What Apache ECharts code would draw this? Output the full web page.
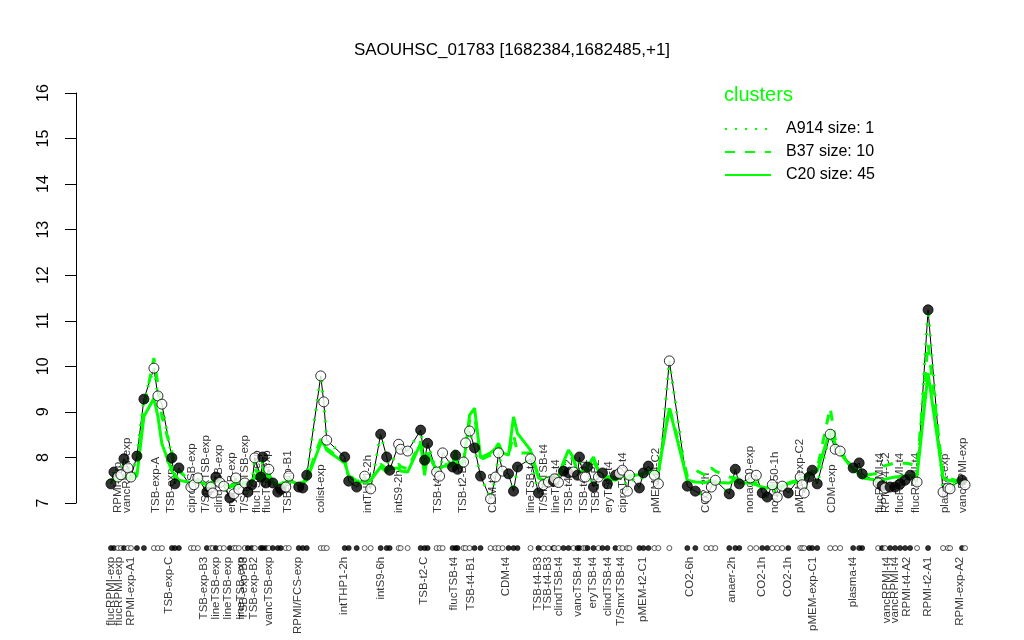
<!DOCTYPE html>
<html><head><meta charset="utf-8">
<script src="https://cdn.jsdelivr.net/npm/echarts@6/dist/echarts.min.js"></script>
<style>html,body{margin:0;padding:0;background:#fff}#c{width:1024px;height:640px}</style>
</head><body><div id="c"></div><script>
// sample order positions (slot index along the x axis, groups separated by gaps)
const sampleSlot = [0,0.75,1.75,2.5,3.25,4.25,5,6.5,8.25,10.75,11.75,12.75,15.25,16,17,20,20.75,21.75,24,25,25.5,26.25,27.25,28.25,29.75,30.75,31.25,32,33.5,34.25,35.25,36,37.5,38,38.75,39.5,40.5,41.75,42.5,43.75,44.5,47,48,49,52.5,53.25,54,58.5,59.5,61.5,63.5,65,67.5,69,69.75,72,72.5,74.25,77.5,78.5,79.25,81.5,82.25,83,85.5,86.25,86.75,88.25,88.75,89.75,91,92.5,95,96.25,97,98,99.5,100.75,101.75,105,107,108.25,109.5,110.75,111,112,113.25,114.5,115.75,116.75,117.25,118.25,118.75,119.25,120.75,122,123,124.25,126.25,127.25,128,129.25,129.75,132.25,133.25,134.5,136,137,139.75,144.25,146.25,149,150.25,151.25,154.75,156.25,157.25,160,161.5,163,164.25,165.5,166.75,168,169.5,172.5,173,173.5,174.75,175.5,176.75,180,181.25,182.5,185.75,187.25,188,192,193,193.75,195,196.25,197.5,198.75,200,201.75,204.5,208.25,209.5,210,213,213.75];
// expression of SAOUHSC_01783 in each sample
const geneValue = [7.42,7.68,7.57,7.62,7.97,7.77,7.57,8.03,9.28,9.96,9.35,9.17,7.99,7.42,7.77,7.35,7.40,7.55,7.24,7.35,7.22,7.57,7.45,7.37,7.11,7.20,7.55,7.30,7.44,7.24,7.40,7.99,7.57,8.01,7.44,7.74,7.44,7.24,7.30,7.35,7.59,7.35,7.33,7.61,9.79,9.22,8.38,8.01,7.48,7.35,7.59,7.31,8.51,8.01,7.72,8.29,8.18,8.14,8.60,7.94,8.31,7.68,7.59,8.10,7.79,8.05,7.74,7.90,8.32,8.58,8.21,7.59,7.09,7.57,8.10,7.70,7.64,7.26,7.79,7.97,7.22,7.40,7.46,7.48,7.53,7.45,7.70,7.66,7.68,7.61,8.01,7.57,7.57,7.79,7.35,7.57,7.66,7.42,7.61,7.65,7.72,7.26,7.61,7.33,7.66,7.81,7.61,7.42,10.12,7.37,7.26,7.13,7.35,7.50,7.20,7.74,7.42,7.55,7.61,7.22,7.13,7.40,7.13,7.37,7.22,7.57,7.40,7.22,7.57,7.72,7.42,8.51,8.18,8.14,7.77,7.88,7.64,7.44,7.38,7.33,7.35,7.35,7.42,7.50,7.61,7.46,11.24,7.24,7.33,7.31,7.50,7.40];
// 1 = filled point, 0 = open point
const sampleFilled = [1,1,0,0,1,0,0,1,1,0,0,0,1,1,1,0,0,0,1,0,0,1,0,0,1,0,0,0,0,1,1,0,1,1,1,0,1,1,1,0,0,1,1,1,0,0,0,1,1,1,0,0,1,1,1,0,0,0,1,1,1,0,0,0,1,1,1,0,0,0,1,1,0,0,0,0,1,1,1,0,1,0,0,1,0,0,1,1,0,1,1,0,0,1,1,0,1,1,1,0,0,0,0,1,1,1,0,0,0,1,1,0,0,0,1,1,1,0,0,1,1,0,0,0,1,0,0,0,1,1,1,0,0,0,1,1,1,0,1,0,1,1,1,1,1,0,1,0,0,0,1,0];
// cluster means
const c20Mean = [7.50,7.52,7.50,7.55,7.60,7.55,7.52,7.60,8.90,9.30,8.90,8.30,7.70,7.62,7.50,7.45,7.42,7.48,7.40,7.45,7.40,7.48,7.45,7.42,7.35,7.38,7.45,7.40,7.45,7.40,7.45,7.60,7.50,7.62,7.48,7.55,7.45,7.40,7.42,7.42,7.48,7.42,7.44,7.50,8.31,8.30,8.16,7.88,7.60,7.46,7.46,7.50,7.79,7.68,7.75,7.77,7.70,7.68,8.31,7.61,8.10,7.72,7.75,7.80,7.83,8.16,7.79,7.90,8.20,8.93,9.08,7.99,8.10,8.20,8.31,8.10,8.05,8.89,8.53,8.16,7.55,7.50,7.52,7.55,7.57,7.57,7.90,8.16,8.00,7.66,7.70,7.60,7.60,7.79,8.01,7.70,7.60,7.55,7.50,7.55,7.60,7.55,7.60,7.62,7.66,7.66,7.66,7.68,9.08,7.50,7.46,7.45,7.50,7.45,7.44,7.50,7.44,7.44,7.40,7.35,7.33,7.35,7.35,7.38,7.42,7.50,7.55,7.58,7.62,7.66,7.70,8.60,8.30,8.10,7.72,7.65,7.55,7.50,7.50,7.52,7.55,7.57,7.58,7.60,7.61,7.60,9.85,7.55,7.50,7.50,7.44,7.44];
const b37Mean = [7.50,7.52,7.52,7.55,7.62,7.58,7.55,7.70,9.10,10.18,9.60,8.90,8.10,7.90,7.70,7.48,7.45,7.50,7.42,7.45,7.42,7.50,7.46,7.45,7.38,7.40,7.48,7.42,7.46,7.42,7.48,7.75,7.55,7.80,7.50,7.62,7.48,7.42,7.44,7.45,7.52,7.45,7.45,7.55,8.40,8.35,8.20,7.90,7.62,7.48,7.50,7.50,7.85,7.75,7.75,7.85,7.80,7.75,8.35,7.70,8.10,7.72,7.75,7.85,7.83,8.16,7.80,7.95,8.25,8.80,8.90,7.95,8.05,8.15,8.25,8.10,8.05,8.50,8.10,8.10,7.60,7.55,7.55,7.58,7.58,7.60,7.85,8.05,7.95,7.70,7.75,7.65,7.65,7.80,7.90,7.72,7.65,7.58,7.55,7.58,7.62,7.58,7.62,7.65,7.68,7.70,7.68,7.70,9.10,7.60,7.72,7.60,7.77,7.70,7.57,7.55,7.48,7.46,7.44,7.38,7.36,7.38,7.38,7.40,7.44,7.52,7.56,7.60,7.65,7.70,7.75,9.09,8.40,8.15,7.75,7.68,7.60,7.65,7.79,7.82,7.85,7.88,7.88,7.87,7.86,7.80,10.50,7.60,7.55,7.52,7.45,7.45];
// cluster A914 has a single member: this gene
const a914Mean = geneValue.slice();

const bottomLabelSlot = [0,2,5,14.5,23.25,26.25,29.25,32.5,33.25,35.75,39.5,46.75,58.25,67.5,78.25,85.75,90,98.75,106.75,109.25,112,116.75,120.5,124.25,127.5,133,144.75,155.5,163,169.5,175.75,185.75,194.25,196.25,199.25,204.5,212.5];
const bottomLabelText = ['flucRPMI-exp','flucRPMI-exp','RPMI-exp-A1','TSB-exp-C','TSB-exp-B3','lineTSB-exp','lineTSB-exp','lineTSB-exp','TSB-exp-B3','TSB-exp-B2','vancTSB-exp','RPMI/FCS-exp','intTHP1-2h','intS9-6h','TSB-t2-C','flucTSB-t4','TSB-t4-B1','CDM-t4','TSB-t4-B3','TSB-t4-B3','clindTSB-t4','vancTSB-t4','eryTSB-t4','clindTSB-t4','T/SmxTSB-t4','pMEM-t2-C1','CO2-6h','anaer-2h','CO2-1h','CO2-1h','pMEM-exp-C1','plasma-t4','vancRPMI-t4','vancRPMI-t4','RPMI-t4-A2','RPMI-t2-A1','RPMI-exp-A2'];
const topLabelSlot = [1.75,4,11.25,15,20.25,23.75,27,30.25,33.5,36.5,39,44.25,52.5,64.25,72,81.75,88,95.5,105,108.25,111.25,114.5,118.25,121.25,124.5,128,136.25,149,160,166.25,172.5,180.5,192.5,194,197.5,201.5,208.75,213.25];
const topLabelText = ['RPMI-exp','vancRPMI-exp','TSB-exp-A','TSB-exp-C','ciproTSB-exp','T/SmxTSB-exp','clindTSB-exp','eryTSB-exp','T/SmxTSB-exp','flucTSB-exp','flucTSB-exp','TSB-exp-B1','colist-exp','intTHP1-2h','intS9-2h','TSB-t4-C','TSB-t2-B1','CDM-t2','lineTSB-t4','T/SmxTSB-t4','lineTSB-t4','TSB-t4-B2','TSB-t4-B1','TSB-t4-B2','eryTSB-t4','ciproTSB-t4','pMEM-t4-C2','CO2-2h','nonad50-exp','nonad50-1h','pMEM-exp-C2','CDM-exp','flucRPMI-t4','RPMI-t4-C2','flucRPMI-t4','flucRPMI-t4','plasma-exp','vancRPMI-exp'];

const FONT = 'Liberation Sans, Arial, sans-serif';
const GREEN = '#00ff00';
const zip = (xs, ys) => xs.map((x, i) => [x, ys[i]]);

const chart = echarts.init(document.getElementById('c'), null, {renderer: 'canvas'});
chart.setOption({
  animation: false,
  backgroundColor: '#fff',
  textStyle: {fontFamily: FONT},
  title: [
    {text: 'SAOUHSC_01783 [1682384,1682485,+1]', left: 'center', top: 37,
     textStyle: {fontFamily: FONT, fontSize: 17, fontWeight: 'normal', color: '#000'}},
    {text: 'clusters', left: 719, top: 80,
     textStyle: {fontFamily: FONT, fontSize: 20, fontWeight: 'normal', color: GREEN}}
  ],
  legend: {
    orient: 'vertical', left: 719, top: 116, itemWidth: 46, itemHeight: 16, itemGap: 7,
    data: ['A914 size: 1', 'B37 size: 10', 'C20 size: 45'],
    itemStyle: {opacity: 0},
    textStyle: {fontFamily: FONT, fontSize: 16, color: '#000', padding: [0, 0, 0, 10]}
  },
  grid: {left: 76, right: 25, top: 93, bottom: 137},
  xAxis: {type: 'value', min: -8.75, max: 222.25, show: false},
  yAxis: {
    type: 'value', min: 7, max: 16, interval: 1,
    axisLine: {show: true, onZero: false, lineStyle: {color: '#000', width: 1}},
    axisTick: {show: true, length: 11, lineStyle: {color: '#000'}},
    axisLabel: {rotate: 90, fontSize: 16, color: '#000', margin: 24, fontFamily: FONT},
    splitLine: {show: false}
  },
  series: [
    {name: 'gene', type: 'line', data: zip(sampleSlot, geneValue), symbol: 'none', clip: false, z: 2,
     lineStyle: {color: '#000', width: 1}, silent: true},
    {name: 'C20 size: 45', type: 'line', data: zip(sampleSlot, c20Mean), symbol: 'none', clip: false, z: 3,
     itemStyle: {color: GREEN}, lineStyle: {color: GREEN, width: 3, type: 'solid'}},
    {name: 'B37 size: 10', type: 'line', data: zip(sampleSlot, b37Mean), symbol: 'none', clip: false, z: 4,
     itemStyle: {color: GREEN}, lineStyle: {color: GREEN, width: 3, type: [10, 10]}},
    {name: 'A914 size: 1', type: 'line', data: zip(sampleSlot, a914Mean), symbol: 'none', clip: false, z: 5,
     itemStyle: {color: GREEN}, lineStyle: {color: GREEN, width: 3, type: [2, 8]}},
    {name: 'points', type: 'scatter', clip: false, z: 7, symbol: 'circle', symbolSize: 10, silent: true,
     data: sampleSlot.map((s, i) => ({value: [s, geneValue[i]],
       itemStyle: {color: sampleFilled[i] ? '#000' : '#fff', borderColor: '#000', borderWidth: 1}}))},
    {name: 'dotrow', type: 'scatter', clip: false, z: 7, symbol: 'circle', symbolSize: 5, silent: true,
     data: sampleSlot.map((s, i) => ({value: [s, 6.01],
       itemStyle: {color: sampleFilled[i] ? '#000' : '#fff', borderColor: '#000', borderWidth: 0.8}}))},
    {name: 'bottomLabels', type: 'scatter', clip: false, z: 1, symbolSize: 0, silent: true,
     data: zip(bottomLabelSlot, bottomLabelSlot.map(() => 5.82)),
     label: {show: true, position: 'inside', rotate: 90, align: 'right', verticalAlign: 'middle',
       fontSize: 11.5, color: '#000', fontFamily: FONT,
       formatter: p => bottomLabelText[p.dataIndex]}},
    {name: 'topLabels', type: 'scatter', clip: false, z: 1, symbolSize: 0, silent: true,
     data: zip(topLabelSlot, topLabelSlot.map(() => 6.78)),
     label: {show: true, position: 'inside', rotate: 90, align: 'left', verticalAlign: 'middle',
       fontSize: 11.5, color: '#000', fontFamily: FONT,
       formatter: p => topLabelText[p.dataIndex]}}
  ]
});
</script></body></html>
